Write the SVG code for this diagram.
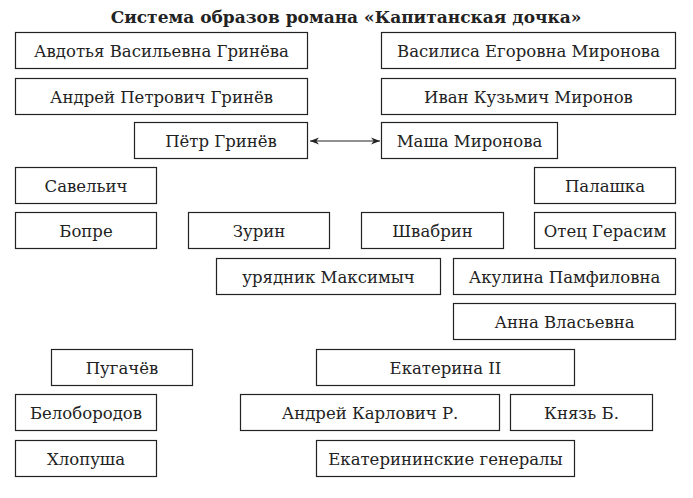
<svg xmlns="http://www.w3.org/2000/svg" width="693" height="498" viewBox="0 0 693 498">
<style>
.b{fill:#fff;stroke:#222;stroke-width:1.2}
.t{font-family:"DejaVu Serif","Liberation Serif",serif;font-size:16.5px;fill:#222;text-anchor:middle}
.h{font-family:"DejaVu Serif","Liberation Serif",serif;font-size:17px;font-weight:bold;fill:#222;text-anchor:middle}
</style>
<defs>
<marker id="ah" viewBox="0 0 10 10" refX="10" refY="5" markerWidth="11" markerHeight="9" markerUnits="userSpaceOnUse" orient="auto-start-reverse">
<path d="M0,1 L10,5 L0,9 L3,5 Z" fill="#222"/>
</marker>
</defs>
<rect width="693" height="498" fill="#fff"/>
<text class="h" x="346" y="23">Система образов романа «Капитанская дочка»</text>
<g id="n1"><rect class="b" x="15.5" y="32.5" width="292" height="36"/><text class="t" x="161.5" y="56.5">Авдотья Васильевна Гринёва</text></g>
<g id="n2"><rect class="b" x="381.5" y="32.5" width="294" height="36"/><text class="t" x="528.5" y="56.5">Василиса Егоровна Миронова</text></g>
<g id="n3"><rect class="b" x="15.5" y="78.5" width="292" height="36"/><text class="t" x="161.5" y="102.5">Андрей Петрович Гринёв</text></g>
<g id="n4"><rect class="b" x="381.5" y="78.5" width="294" height="36"/><text class="t" x="528.5" y="102.5">Иван Кузьмич Миронов</text></g>
<g id="n5"><rect class="b" x="134.5" y="122.5" width="173" height="36"/><text class="t" x="221" y="146.5">Пётр Гринёв</text></g>
<g id="n6"><rect class="b" x="381.5" y="122.5" width="176" height="36"/><text class="t" x="469.5" y="146.5">Маша Миронова</text></g>
<g id="n7"><rect class="b" x="15.5" y="167.5" width="141" height="36"/><text class="t" x="86" y="191.5">Савельич</text></g>
<g id="n8"><rect class="b" x="534.5" y="167.5" width="141" height="36"/><text class="t" x="605" y="191.5">Палашка</text></g>
<g id="n9"><rect class="b" x="15.5" y="212.5" width="141" height="36"/><text class="t" x="86" y="236.5">Бопре</text></g>
<g id="n10"><rect class="b" x="188.5" y="212.5" width="141" height="36"/><text class="t" x="259" y="236.5">Зурин</text></g>
<g id="n11"><rect class="b" x="361.5" y="212.5" width="142" height="36"/><text class="t" x="432.5" y="236.5">Швабрин</text></g>
<g id="n12"><rect class="b" x="534.5" y="212.5" width="141" height="36"/><text class="t" x="605" y="236.5">Отец Герасим</text></g>
<g id="n13"><rect class="b" x="216.5" y="258.5" width="224" height="36"/><text class="t" x="328.5" y="282.5">урядник Максимыч</text></g>
<g id="n14"><rect class="b" x="453.5" y="258.5" width="222" height="36"/><text class="t" x="564.5" y="282.5">Акулина Памфиловна</text></g>
<g id="n15"><rect class="b" x="453.5" y="303.5" width="222" height="36"/><text class="t" x="564.5" y="327.5">Анна Власьевна</text></g>
<g id="n16"><rect class="b" x="51.5" y="349.5" width="141" height="36"/><text class="t" x="122" y="373.5">Пугачёв</text></g>
<g id="n17"><rect class="b" x="316.5" y="349.5" width="258" height="36"/><text class="t" x="445.5" y="373.5">Екатерина II</text></g>
<g id="n18"><rect class="b" x="15.5" y="394.5" width="141" height="36"/><text class="t" x="86" y="418.5">Белобородов</text></g>
<g id="n19"><rect class="b" x="240.5" y="394.5" width="259" height="36"/><text class="t" x="370" y="418.5">Андрей Карлович Р.</text></g>
<g id="n20"><rect class="b" x="510.5" y="394.5" width="142" height="36"/><text class="t" x="581.5" y="418.5">Князь Б.</text></g>
<g id="n21"><rect class="b" x="15.5" y="440.5" width="141" height="36"/><text class="t" x="86" y="464.5">Хлопуша</text></g>
<g id="n22"><rect class="b" x="316.5" y="440.5" width="258" height="36"/><text class="t" x="445.5" y="464.5">Екатерининские генералы</text></g>
<g id="connectors">
<line x1="310" y1="141" x2="380" y2="141" stroke="#222" stroke-width="1.2" marker-start="url(#ah)" marker-end="url(#ah)"/>
</g>
</svg>
